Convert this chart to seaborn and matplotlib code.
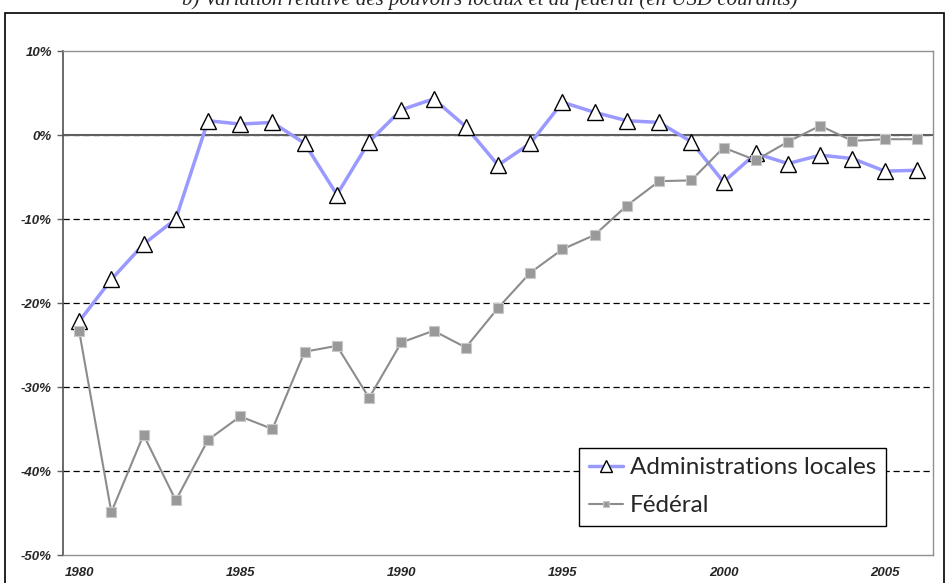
import numpy as np
import pandas as pd
import matplotlib.pyplot as plt
import seaborn as sns
from matplotlib.patches import Rectangle
from matplotlib.ticker import FixedLocator, FuncFormatter

years = list(range(1980, 2007))
locales = [-22.2, -17.2, -13.0, -10.0, 1.7, 1.3, 1.5, -1.0, -7.1, -0.8,
           3.0, 4.3, 1.0, -3.6, -1.0, 3.9, 2.7, 1.7, 1.5, -0.8,
           -5.6, -2.2, -3.4, -2.4, -2.8, -4.3, -4.2]
federal = [-23.3, -44.9, -35.7, -43.5, -36.3, -33.5, -35.0, -25.8, -25.1, -31.3,
           -24.7, -23.3, -25.3, -20.6, -16.4, -13.6, -11.9, -8.4, -5.5, -5.4,
           -1.5, -3.0, -0.8, 1.1, -0.7, -0.5, -0.5]
year_labels = [1980, 1985, 1990, 1995, 2000, 2005]
y_ticks = [10, 0, -10, -20, -30, -40, -50]

df = pd.DataFrame({"Année": years, "Administrations locales": locales, "Fédéral": federal})

sns.set_style("white")
plt.rcParams["font.family"] = ["Liberation Sans", "DejaVu Sans"]

fig = plt.figure(figsize=(9.49, 5.83), dpi=100)
ax = fig.add_axes([63 / 949, 28 / 583, 870 / 949, 504 / 583])

# outer frame of the chart area
fig.patches.append(Rectangle((5 / 949, -0.01), 939 / 949, 1 - 13 / 583 + 0.01,
                             transform=fig.transFigure, fill=False,
                             edgecolor="black", linewidth=1.2))

# title, cut by the top edge as in the source
fig.text(798 / 949, 1 - 5 / 583, "b) Variation relative des pouvoirs locaux et du fédéral (en USD courants)",
         ha="right", va="baseline", fontsize=15, style="italic",
         family=["Liberation Serif", "DejaVu Serif"])

for v in y_ticks[1:-1]:
    ax.axhline(v, color="black", lw=0.9, ls=(0, (5, 3)), zorder=1)
ax.axhline(0, color="#606060", lw=1.5, zorder=1)

sns.lineplot(data=df, x="Année", y="Administrations locales", ax=ax,
             color="#9999ff", lw=2.5, marker="^", markersize=11,
             markerfacecolor="white", markeredgecolor="black", markeredgewidth=1,
             label="Administrations locales", zorder=3)
sns.lineplot(data=df, x="Année", y="Fédéral", ax=ax,
             color="#8c8c8c", lw=1.5, marker="s", markersize=6.5,
             markerfacecolor="#999999", markeredgecolor="#c8c8c8", markeredgewidth=0.8,
             label="Fédéral", zorder=4)

ax.set_xlim(1979.5, 2006.5)
ax.set_ylim(-50, 10)
ax.set_xlabel("")
ax.set_ylabel("")
ax.xaxis.set_major_locator(FixedLocator(year_labels))
ax.yaxis.set_major_locator(FixedLocator(y_ticks))
ax.yaxis.set_major_formatter(FuncFormatter(lambda v, p: f"{int(v)}%"))
ax.tick_params(axis="x", length=0, pad=9, labelsize=9.5)
ax.tick_params(axis="y", length=4, width=1, color="#606060", direction="out", pad=4,
               left=True, labelsize=9.5)
for lab in ax.get_xticklabels() + ax.get_yticklabels():
    lab.set_fontweight("bold")
    lab.set_fontstyle("italic")

for s in ["top", "right", "bottom"]:
    ax.spines[s].set_color("#909090")
    ax.spines[s].set_linewidth(1)
ax.spines["left"].set_color("#505050")
ax.spines["left"].set_linewidth(1.2)

leg = ax.legend(loc="lower left", bbox_to_anchor=((579 - 63) / 870, (555 - 526) / 504),
                borderaxespad=0, frameon=True, fancybox=False, handlelength=1.4,
                handletextpad=0.3, borderpad=0.4, labelspacing=0.7,
                prop={"family": ["Lato", "DejaVu Sans"], "size": 17.5})
leg.get_frame().set_edgecolor("black")
leg.get_frame().set_linewidth(1)
leg.get_frame().set_alpha(1)
for h in leg.legend_handles:
    h.set_markersize(h.get_markersize() * 0.75)

fig.savefig("out.png", dpi=100)
